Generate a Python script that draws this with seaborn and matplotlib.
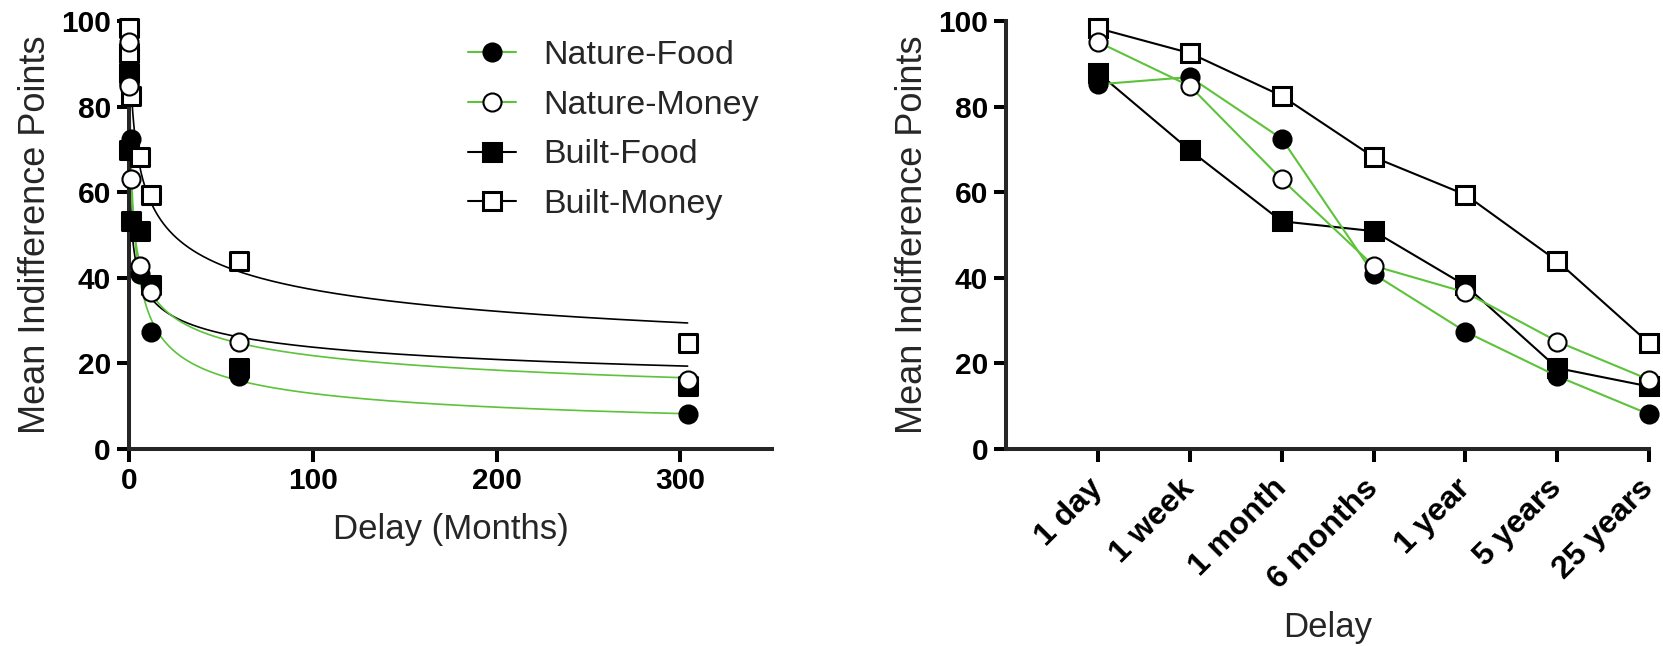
import numpy as np
import pandas as pd
import matplotlib
matplotlib.use("Agg")
import matplotlib.pyplot as plt
from matplotlib.lines import Line2D
import seaborn as sns

delay_labels = ["1 day", "1 week", "1 month", "6 months", "1 year", "5 years", "25 years"]
delay_months = [0.033, 0.23, 1, 6, 12, 60, 304]

nature_food = [85.2, 86.9, 72.5, 40.9, 27.4, 17.0, 8.1]
nature_money = [95.1, 84.8, 63.0, 42.8, 36.6, 25.1, 16.2]
built_food = [87.9, 69.8, 53.2, 50.9, 38.2, 18.9, 14.6]
built_money = [98.3, 92.5, 82.5, 68.2, 59.4, 43.9, 24.7]

GREEN = "#5cc33a"

# drawing order: built first so the nature markers sit on top
series = [
    ("Built-Food", built_food, "black", "s", "black", 2.2),
    ("Built-Money", built_money, "black", "s", "white", 2.2),
    ("Nature-Food", nature_food, GREEN, "o", "black", 1.5),
    ("Nature-Money", nature_money, GREEN, "o", "white", 1.5),
]
legend_order = ["Nature-Food", "Nature-Money", "Built-Food", "Built-Money"]


def fit_hyperboloid(d, v, A=100.0):
    # V = A / (1 + kD)^s with A fixed at the full amount, grid search k, s
    d = np.asarray(d, float)
    v = np.asarray(v, float)
    ks = np.logspace(-3, 2, 400)[:, None, None]
    ss = np.linspace(0.02, 2.0, 300)[None, :, None]
    f = A / (1 + ks * d[None, None, :]) ** ss
    err = ((v - f) ** 2).sum(-1)
    i, j = np.unravel_index(np.argmin(err), err.shape)
    return A, ks[i, 0, 0], ss[0, j, 0]


sns.set_style("ticks")
plt.rcParams["font.family"] = ["Liberation Sans", "DejaVu Sans"]

fig = plt.figure(figsize=(16.63, 6.46), dpi=100)
ax1 = fig.add_axes([0.0776, 0.305, 0.3867, 0.6625])
ax2 = fig.add_axes([0.605, 0.305, 0.3867, 0.6625])

d_fit = np.linspace(0, max(delay_months), 600)
x_pos = np.arange(len(delay_labels))

for name, vals, col, mk, face, mew in series:
    A, k, s = fit_hyperboloid(delay_months, vals)
    sns.lineplot(x=d_fit, y=A / (1 + k * d_fit) ** s, color=col, lw=1.2,
                 ax=ax1, zorder=2)

for name, vals, col, mk, face, mew in series:
    sns.scatterplot(x=delay_months, y=vals, marker=mk, s=169, color=face,
                    edgecolor="black", linewidth=mew, ax=ax1, zorder=3,
                    clip_on=False)
    df = pd.DataFrame({"pos": x_pos, "val": vals})
    sns.lineplot(data=df, x="pos", y="val", color=col, lw=1.5, marker=mk,
                 markersize=13, markerfacecolor=face, markeredgecolor="black",
                 markeredgewidth=mew, ax=ax2, clip_on=False, zorder=3)

ax1.set_xlim(0, 350)
ax1.set_xticks([0, 100, 200, 300])
ax2.set_xlim(-1, 6)
ax2.set_xticks(x_pos)
ax2.set_xticklabels(delay_labels, rotation=45, ha="right", va="center",
                    rotation_mode="anchor")

for ax in (ax1, ax2):
    ax.set_ylim(0, 100)
    ax.set_yticks([0, 20, 40, 60, 80, 100])
    sns.despine(ax=ax)
    for sp in ("left", "bottom"):
        ax.spines[sp].set_linewidth(2.9)
    ax.tick_params(width=2.9, length=9, labelsize=21.5, pad=4, color="black",
                   labelcolor="black")
    for lab in ax.get_xticklabels() + ax.get_yticklabels():
        lab.set_fontweight("bold")
    ax.set_ylabel("Mean Indifference Points", fontsize=26, labelpad=6)

ax2.tick_params(axis="x", pad=16, labelsize=23)
ax1.set_xlabel("Delay (Months)", fontsize=25, labelpad=13)
ax2.set_xlabel("Delay", fontsize=25, labelpad=12)

styles = {name: (col, mk, face, mew) for name, vals, col, mk, face, mew in series}
handles = []
for name in legend_order:
    col, mk, face, mew = styles[name]
    handles.append(Line2D([0], [0], color=col, lw=1.5, marker=mk, markersize=13,
                          markerfacecolor=face, markeredgecolor="black",
                          markeredgewidth=mew))
fig.legend(handles, legend_order, loc="upper left", bbox_to_anchor=(0.2814, 0.938),
           frameon=False, fontsize=24.5, handlelength=1.4, handletextpad=0.8,
           labelspacing=0.55, borderpad=0, borderaxespad=0)

fig.savefig("out.png", dpi=100)
